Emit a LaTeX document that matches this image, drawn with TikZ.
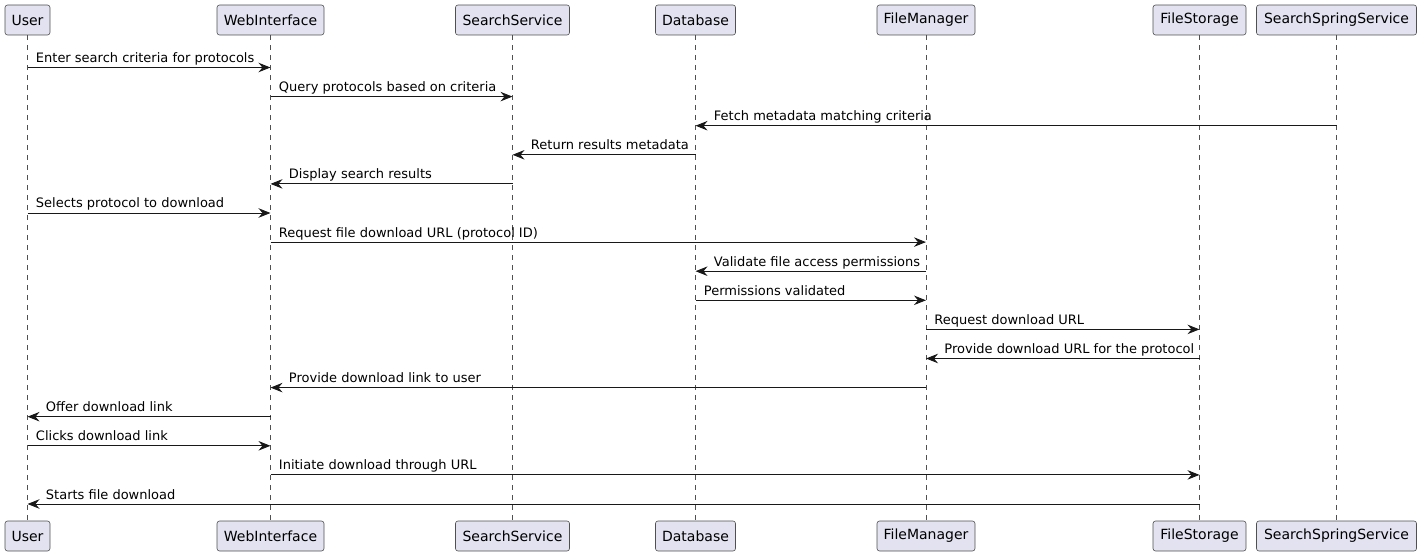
\documentclass[tikz,border=0pt]{standalone}
\usepackage{fontspec}
\setmainfont{DejaVu Sans}
\usetikzlibrary{arrows.meta}
\definecolor{boxfill}{HTML}{E2E2F0}
\definecolor{ink}{HTML}{181818}
\definecolor{frame}{HTML}{505050}
\tikzset{
  part/.style={draw=frame, fill=boxfill, rounded corners=2.5pt, line width=0.6pt,
    minimum height=30pt, inner xsep=0pt, inner ysep=0pt,
    font=\fontsize{14}{16}\selectfont, text=black},
  lifeline/.style={draw=frame, line width=0.6pt, dash pattern=on 5pt off 5pt},
  msgline/.style={draw=ink, line width=0.9pt, -{Stealth[length=12pt,width=9.5pt,inset=4pt]}},
  msglabel/.style={font=\fontsize{13}{15}\selectfont, text=black, inner sep=0pt, anchor=base west}
}
\newcommand\rmsg[4]{\draw[msgline] (#1 |- {0,#3}) -- (#2 |- {0,#3})
  node[msglabel, pos=0, xshift=8pt, yshift=5pt] {#4};}
\newcommand\lmsg[4]{\draw[msgline] (#2 |- {0,#3}) -- (#1 |- {0,#3})
  node[msglabel, pos=1, xshift=18pt, yshift=5pt] {#4};}
\begin{document}
\begin{tikzpicture}[x=1pt,y=-1pt]
\useasboundingbox (0,0) rectangle (1422,556);
% top participants
\node[part, minimum width=45pt]  (uT) at (27.5,20) {User};
\node[part, minimum width=107pt] (wT) at (270.5,20) {WebInterface};
\node[part, minimum width=114pt] (sT) at (512.5,20) {SearchService};
\node[part, minimum width=80pt]  (dT) at (695.5,20) {Database};
\node[part, minimum width=98pt]  (fT) at (926,20) {FileManager};
\node[part, minimum width=93pt]  (gT) at (1199.5,20) {FileStorage};
\node[part, minimum width=160pt] (pT) at (1336.5,20) {SearchSpringService};
% bottom participants
\node[part, minimum width=45pt]  (uB) at (27.5,536) {User};
\node[part, minimum width=107pt] (wB) at (270.5,536) {WebInterface};
\node[part, minimum width=114pt] (sB) at (512.5,536) {SearchService};
\node[part, minimum width=80pt]  (dB) at (695.5,536) {Database};
\node[part, minimum width=98pt]  (fB) at (926,536) {FileManager};
\node[part, minimum width=93pt]  (gB) at (1199.5,536) {FileStorage};
\node[part, minimum width=160pt] (pB) at (1336.5,536) {SearchSpringService};
% lifelines
\foreach \n in {u,w,s,d,f,g,p} \draw[lifeline] (\n T.south) -- (\n B.north);
% messages
\rmsg{uT}{wT}{67.5}{Enter search criteria for protocols}
\rmsg{wT}{sT}{96.6}{Query protocols based on criteria}
\lmsg{dT}{pT}{125.7}{Fetch metadata matching criteria}
\lmsg{sT}{dT}{154.8}{Return results metadata}
\lmsg{wT}{sT}{183.9}{Display search results}
\rmsg{uT}{wT}{213}{Selects protocol to download}
\rmsg{wT}{fT}{242.1}{Request file download URL (protocol ID)}
\lmsg{dT}{fT}{271.2}{Validate file access permissions}
\rmsg{dT}{fT}{300.3}{Permissions validated}
\rmsg{fT}{gT}{329.4}{Request download URL}
\lmsg{fT}{gT}{358.5}{Provide download URL for the protocol}
\lmsg{wT}{fT}{387.6}{Provide download link to user}
\lmsg{uT}{wT}{416.7}{Offer download link}
\rmsg{uT}{wT}{445.8}{Clicks download link}
\rmsg{wT}{gT}{474.9}{Initiate download through URL}
\lmsg{uT}{gT}{504}{Starts file download}
\end{tikzpicture}
\end{document}
